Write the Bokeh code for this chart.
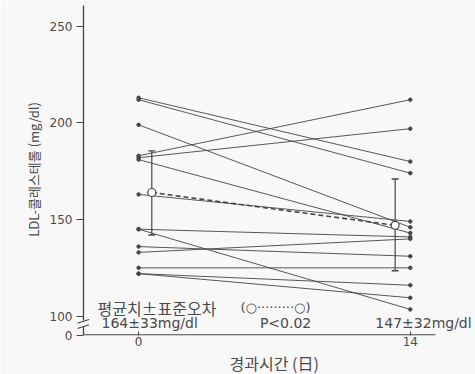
from bokeh.plotting import figure
from bokeh.models import Label, FixedTicker, Range1d, Title
from bokeh.embed import file_html
from bokeh.resources import INLINE

# LDL cholesterol (mg/dl) of each subject at day 0 and day 14
day0 = [213, 212, 199, 183, 182, 181, 163, 145, 145, 136, 133, 125, 122, 122]
day14 = [180, 174, 146, 212, 197, 143, 149, 141, 103.5, 131, 140, 125, 116, 109.5]
days = [0, 14]

# group mean and the drawn error range
mean_vals = [164, 147]
err_low = [142, 123.5]
err_high = [185.5, 171]

y_ticks = [90, 100, 150, 200, 250]
y_tick_labels = {90: "0", 100: "100", 150: "150", 200: "200", 250: "250"}
x_ticks = [0, 14]

summary_left = "164±33mg/dl"
summary_right = "147±32mg/dl"
p_text = "P<0.02"
legend_text = "평균치±표준오차"
legend_key = "(○·········○)"
y_title = "LDL-콜레스테롤  (mg/dl)"
x_title = "경과시간  (日)"

INK = "#464646"
TXT = "#4a4a4a"
BG = "#f8f8f8"
NUM_FONT = "DejaVu Sans"
KR_FONT = "Noto Sans CJK KR"

p = figure(width=475, height=374, output_backend="svg", toolbar_location=None,
           x_range=Range1d(-3.20, 17.36), y_range=Range1d(90, 263.33),
           min_border_left=76, min_border_right=0, min_border_top=0,
           min_border_bottom=36)
p.background_fill_color = BG
p.border_fill_color = BG
p.outline_line_color = None
p.xgrid.visible = False
p.ygrid.visible = False

# axis titles, shifted along their axes
p.add_layout(Title(text=y_title, align="center", offset=40, standoff=8,
                   text_font=KR_FONT, text_font_size="13px",
                   text_font_style="normal", text_color=TXT), "left")
p.add_layout(Title(text=x_title, align="center", offset=-8, standoff=0,
                   text_font=KR_FONT, text_font_size="16px",
                   text_font_style="normal", text_color=TXT), "below")

# axes: ticks and labels from Bokeh, axis lines drawn below so the break fits
yax = p.yaxis[0]
yax.ticker = FixedTicker(ticks=y_ticks)
yax.major_label_overrides = y_tick_labels
yax.axis_line_color = None
yax.major_tick_in = 7
yax.major_tick_out = 0
yax.major_tick_line_color = INK
yax.minor_tick_line_color = None
yax.major_label_standoff = 4
yax.major_label_text_font = NUM_FONT
yax.major_label_text_font_size = "12px"
yax.major_label_text_color = TXT

xax = p.xaxis[0]
xax.ticker = FixedTicker(ticks=x_ticks)
xax.axis_line_color = None
xax.major_tick_in = 4
xax.major_tick_out = 0
xax.major_tick_line_color = INK
xax.minor_tick_line_color = None
xax.major_label_standoff = 1
xax.major_label_text_font = NUM_FONT
xax.major_label_text_font_size = "12px"
xax.major_label_text_color = TXT

# y axis line with a break between 100 and 0, and the base line
ax_x = -2.84
p.segment(x0=[ax_x, ax_x, -2.86], y0=[260.8, 94.9, 90.3],
          x1=[ax_x, ax_x, 15.3], y1=[97.8, 90.3, 90.3],
          line_color=INK, line_width=1.3)
p.segment(x0=[-3.15, -3.15], y0=[96.3, 93.6], x1=[-2.55, -2.55], y1=[98.3, 95.6],
          line_color=INK, line_width=1.1)

# individual subjects
p.segment(x0=[days[0]] * len(day0), y0=day0, x1=[days[1]] * len(day14), y1=day14,
          line_color=INK, line_width=1, line_alpha=0.9)
p.scatter(x=[days[0]] * len(day0), y=day0, size=3.5, color=INK)
p.scatter(x=[days[1]] * len(day14), y=day14, size=3.5, color=INK)

# mean ± error, drawn slightly inside the day positions
mean_x = [days[0] + 0.68, days[1] - 0.78]
p.segment(x0=mean_x, y0=err_low, x1=mean_x, y1=err_high, line_color=INK, line_width=1.2)
cap = 0.18
p.segment(x0=[m - cap for m in mean_x] * 2, y0=err_low + err_high,
          x1=[m + cap for m in mean_x] * 2, y1=err_low + err_high,
          line_color=INK, line_width=1.4)
p.line(x=mean_x, y=mean_vals, line_color=INK, line_width=1.6, line_dash="5 3")
p.scatter(x=mean_x, y=mean_vals, size=8, marker="circle", fill_color="white",
          line_color=INK, line_width=1.2)

# texts
p.add_layout(Label(x=-2.12, y=104.4, text=legend_text, text_align="left",
                   text_baseline="middle", text_font=KR_FONT,
                   text_font_size="16px", text_color=TXT))
p.add_layout(Label(x=5.25, y=104.4, text=legend_key, text_align="left",
                   text_baseline="middle", text_font=NUM_FONT,
                   text_font_size="13px", text_color=TXT))
for tx, txt in [(-1.91, summary_left), (6.25, p_text), (12.2, summary_right)]:
    p.add_layout(Label(x=tx, y=96.7, text=txt, text_align="left",
                       text_baseline="middle", text_font=NUM_FONT,
                       text_font_size="14px", text_color=TXT))

open("out.html", "w").write(file_html(p, INLINE))
